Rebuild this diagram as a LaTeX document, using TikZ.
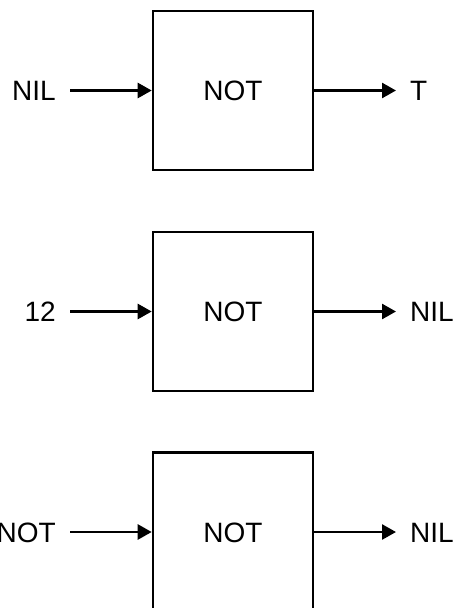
\documentclass[tikz,border=0pt]{standalone}
\usepackage{fontspec}
\setmainfont{Liberation Sans}
\usetikzlibrary{arrows.meta}
\begin{document}
\begin{tikzpicture}[x=1pt,y=-1pt,
  notbox/.style={draw=black,line width=2.6pt,minimum width=160pt,minimum height=159pt,inner sep=0pt,
    font=\fontsize{28}{32}\selectfont, text height=20pt, text depth=0pt},
  lab/.style={inner xsep=14pt,inner ysep=0pt,font=\fontsize{28}{32}\selectfont, text height=20pt, text depth=0pt},
  flow/.style={line width=2.6pt,-{Triangle[length=14pt,width=15pt]}}]
\useasboundingbox (0,0) rectangle (454,608);
\clip (0,0) rectangle (454,608);
\fill[white] (0,0) rectangle (454,608);
% row 1
\node[notbox] (b1) at (233,90.5) {NOT};
\node[lab,anchor=east] (i1) at (70,90.5) {NIL};
\node[lab,anchor=west] (o1) at (396,90.5) {T};
\draw[flow] (i1) -- (b1);
\draw[flow] (b1) -- (o1);
% row 2
\node[notbox] (b2) at (233,311.5) {NOT};
\node[lab,anchor=east] (i2) at (70,311.5) {12};
\node[lab,anchor=west] (o2) at (396,311.5) {NIL};
\draw[flow] (i2) -- (b2);
\draw[flow] (b2) -- (o2);
% row 3
\node[notbox] (b3) at (233,532) {NOT};
\node[lab,anchor=east] (i3) at (70,532) {NOT};
\node[lab,anchor=west] (o3) at (396,532) {NIL};
\draw[flow] (i3) -- (b3);
\draw[flow] (b3) -- (o3);
\end{tikzpicture}
\end{document}
